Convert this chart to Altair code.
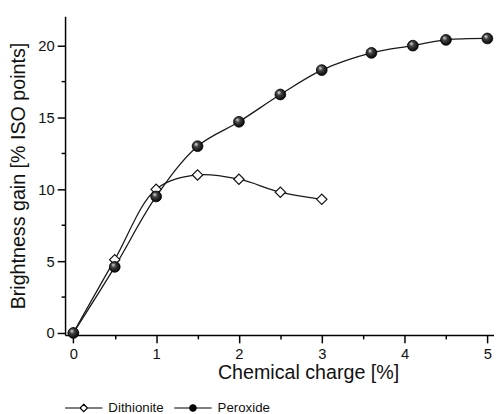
import altair as alt
import pandas as pd

# Data
dith_x = [0, 0.5, 1, 1.5, 2, 2.5, 3]
dith_y = [0.0, 5.1, 10.0, 11.0, 10.7, 9.8, 9.3]
perox_x = [0, 0.5, 1, 1.5, 2, 2.5, 3, 3.6, 4.1, 4.5, 5]
perox_y = [0.0, 4.6, 9.5, 13.0, 14.7, 16.6, 18.3, 19.5, 20.0, 20.4, 20.5]
series_names = ["Dithionite", "Peroxide"]
x_ticks = [0, 0.5, 1, 1.5, 2, 2.5, 3, 3.5, 4, 4.5, 5]
y_ticks = [0, 2.5, 5, 7.5, 10, 12.5, 15, 17.5, 20]

df = pd.concat([
    pd.DataFrame({"charge": dith_x, "gain": dith_y, "series": series_names[0]}),
    pd.DataFrame({"charge": perox_x, "gain": perox_y, "series": series_names[1]}),
], ignore_index=True)

FONT = "Liberation Sans"

x_enc = alt.X("charge:Q",
              scale=alt.Scale(domain=[-0.1, 5.08], nice=False, zero=False),
              axis=alt.Axis(values=x_ticks,
                            labelExpr="datum.value % 1 === 0 ? format(datum.value, 'd') : ''",
                            tickSize={"condition": {"test": "datum.value % 1 === 0", "value": 8}, "value": 4},
                            title="Chemical charge [%]",
                            titleX=247, titleY=38, titleBaseline="middle", titleAlign="center",
                            labelPadding=4))
y_enc = alt.Y("gain:Q",
              scale=alt.Scale(domain=[-0.14, 22.05], nice=False, zero=False),
              axis=alt.Axis(values=y_ticks,
                            labelExpr="datum.value % 5 === 0 ? format(datum.value, 'd') : ''",
                            tickSize={"condition": {"test": "datum.value % 5 === 0", "value": 8}, "value": 4},
                            title="Brightness gain [% ISO points]",
                            titleX=-47, titleY=162, titleAngle=270,
                            titleBaseline="middle", titleAlign="center",
                            labelPadding=3))

base = alt.Chart(df)

lines = base.mark_line(interpolate="catmull-rom", color="#1a1a1a", strokeWidth=1.3).encode(
    x=x_enc, y=y_enc, detail="series:N")

dith_pts = base.transform_filter(alt.datum.series == series_names[0]).mark_point(
    shape="diamond", filled=True, fill="white", stroke="#111", strokeWidth=1.2,
    size=110, opacity=1).encode(x=x_enc, y=y_enc)

sphere = alt.RadialGradient(
    gradient="radial",
    stops=[alt.GradientStop(color="#f0f0f0", offset=0),
           alt.GradientStop(color="#444", offset=0.35),
           alt.GradientStop(color="#000", offset=1)],
    x1=0.35, y1=0.3, r1=0, x2=0.45, y2=0.45, r2=0.6)

perox_pts = base.transform_filter(alt.datum.series == series_names[1]).mark_point(
    shape="circle", filled=True, fill=sphere, stroke="#000", strokeWidth=0.8,
    size=120, opacity=1).encode(x=x_enc, y=y_enc)

dith_sym = "M-1,0H-0.2M0.2,0H1M0,-0.2L0.2,0L0,0.2L-0.2,0Z"
perox_sym = "M-1,0H1M-0.17,0A0.17,0.17,0,1,0,0.17,0A0.17,0.17,0,1,0,-0.17,0Z"

leg = alt.Legend(title=None, orient="none", legendX=-1, legendY=378,
                 direction="horizontal", symbolSize=1444, symbolStrokeWidth=1.2,
                 labelFont=FONT, labelFontSize=13.5, labelColor="#111",
                 labelOffset=5, columnPadding=7, padding=0)

legend_layer = base.transform_filter("false").mark_point(
    filled=True, opacity=1, strokeWidth=1.2).encode(
    x=x_enc, y=y_enc,
    shape=alt.Shape("series:N", scale=alt.Scale(domain=series_names, range=[dith_sym, perox_sym]),
                    legend=leg),
    fill=alt.Fill("series:N", scale=alt.Scale(domain=series_names, range=["white", "black"]),
                  legend=leg),
    stroke=alt.Stroke("series:N", scale=alt.Scale(domain=series_names, range=["#000", "#000"]),
                      legend=leg),
)

chart = alt.layer(lines, dith_pts, perox_pts, legend_layer).properties(
    width=436, height=324,
    autosize=alt.AutoSizeParams(type="none"),
    padding={"left": 58, "top": 5, "right": 0, "bottom": 77},
).configure_view(stroke=None).configure_axis(
    grid=False, domainColor="#000", domainWidth=1.5, tickColor="#000", tickWidth=1.5,
    labelFont=FONT, labelFontSize=15, labelColor="#111",
    titleFont=FONT, titleFontSize=20, titleFontWeight="normal", titleColor="#111",
)

chart.save("out.html", embed_options={"renderer": "svg", "actions": False})
